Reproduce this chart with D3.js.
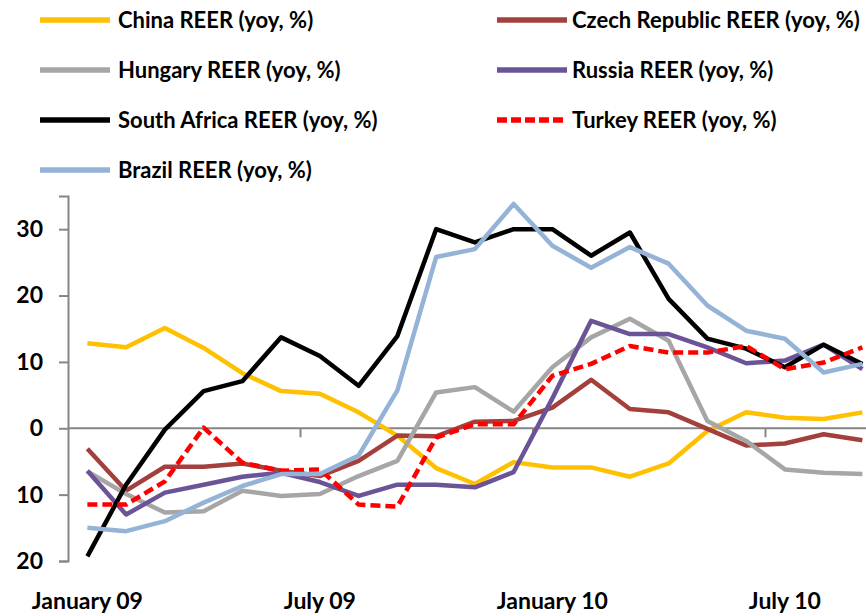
<!DOCTYPE html>
<html>
<head>
<meta charset="utf-8">
<script src="https://cdn.jsdelivr.net/npm/d3@7"></script>
<style>
  html, body { margin: 0; padding: 0; background: #ffffff; }
  svg { display: block; }
  text { font-family: Lato, "Noto Sans", sans-serif; font-weight: bold; fill: #000; }
</style>
</head>
<body>
<script>
// ---- data ----
const months = ["Jan 09","Feb 09","Mar 09","Apr 09","May 09","Jun 09","Jul 09","Aug 09","Sep 09","Oct 09","Nov 09","Dec 09",
                "Jan 10","Feb 10","Mar 10","Apr 10","May 10","Jun 10","Jul 10","Aug 10","Sep 10"];
const xLabelIdx = [0, 6, 12, 18];
const xLabels = ["January 09", "July 09", "January 10", "July 10"];
const yTicks = [-20, -10, 0, 10, 20, 30];
const yTickLabels = ["20", "10", "0", "10", "20", "30"];

const seriesNames = ["China REER (yoy, %)", "Czech Republic REER (yoy, %)", "Hungary REER (yoy, %)", "Russia REER (yoy, %)",
                     "South Africa REER (yoy, %)", "Turkey REER (yoy, %)", "Brazil REER (yoy, %)"];
const china   = [12.8, 12.2, 15.1, 12.1, 8.3, 5.6, 5.2, 2.4, -1.1, -6.0, -8.4, -5.1, -5.9, -5.9, -7.3, -5.3, -0.4, 2.4, 1.6, 1.4, 2.4];
const czech   = [-3.1, -9.4, -5.8, -5.8, -5.3, -6.4, -7.2, -4.9, -1.1, -1.2, 1.0, 1.1, 3.1, 7.3, 2.9, 2.4, -0.1, -2.6, -2.3, -0.9, -1.8];
const hungary = [-6.5, -9.9, -12.7, -12.5, -9.4, -10.2, -9.9, -7.2, -4.9, 5.4, 6.2, 2.5, 9.2, 13.7, 16.5, 13.2, 1.1, -1.9, -6.2, -6.7, -6.9];
const russia  = [-6.4, -13.0, -9.7, -8.5, -7.3, -6.7, -8.1, -10.2, -8.5, -8.5, -8.9, -6.6, 4.5, 16.2, 14.2, 14.2, 12.2, 9.8, 10.2, 12.6, 8.9];
const safrica = [-19.3, -8.5, -0.2, 5.6, 7.1, 13.7, 10.9, 6.4, 13.9, 30.0, 28.0, 30.0, 30.0, 26.0, 29.5, 19.5, 13.5, 12.0, 9.2, 12.6, 9.7];
const turkey  = [-11.5, -11.5, -8.0, 0.1, -5.2, -6.4, -6.2, -11.5, -11.8, -1.4, 0.6, 0.6, 7.9, 9.7, 12.4, 11.4, 11.4, 12.4, 8.9, 9.9, 12.2];
const brazil  = [-15.0, -15.5, -14.0, -11.2, -8.7, -6.9, -6.9, -4.1, 5.7, 25.8, 27.0, 33.8, 27.5, 24.2, 27.3, 24.8, 18.5, 14.7, 13.5, 8.4, 9.7];

const seriesValues = [china, czech, hungary, russia, safrica, turkey, brazil];
const seriesColors = ["#FFC000", "#A3403D", "#A6A6A6", "#6A5396", "#000000", "#FF0000", "#95B3D7"];
const seriesDash = [null, null, null, null, null, "10,5", null];

// ---- layout ----
const W = 866, H = 616;
const FS = 23, LEG_FS = 22;
const svg = d3.select("body").append("svg").attr("width", W).attr("height", H);
svg.append("rect").attr("width", W).attr("height", H).attr("fill", "#fff");

const plotLeft = 68, step = 38.75;
const x = d3.scaleBand().domain(months).range([plotLeft, plotLeft + step * months.length]).paddingInner(0).paddingOuter(0);
const y = d3.scaleLinear().domain([-20, 35]).range([561, 196]);
const cx = m => x(m) + x.bandwidth() / 2;

const axisColor = "#868686";

// y axis
const yAxis = d3.axisLeft(y).tickValues(yTicks).tickSize(9).tickFormat((d, i) => yTickLabels[i]);
const gy = svg.append("g").attr("transform", `translate(${plotLeft},0)`).call(yAxis);
gy.select(".domain").attr("stroke", axisColor).attr("stroke-width", 2);
gy.selectAll(".tick line").attr("stroke", axisColor).attr("stroke-width", 2);
gy.selectAll(".tick text").attr("x", -25).attr("font-size", FS)
  .style("font-family", 'Lato, "Noto Sans", sans-serif').style("font-weight", "bold").attr("fill", "#000");

// x axis along zero line
const xAxis = d3.axisBottom(x).tickValues([]).tickSizeOuter(0);
const gx = svg.append("g").attr("transform", `translate(0,${y(0)})`).call(xAxis);
gx.select(".domain").attr("stroke", axisColor).attr("stroke-width", 2).attr("d", `M${plotLeft},0H${W}`);
gx.selectAll("line.tk").data(xLabelIdx.slice(1)).enter().append("line")
  .attr("class", "tk")
  .attr("x1", i => x(months[i])).attr("x2", i => x(months[i]))
  .attr("y1", 0).attr("y2", 9).attr("stroke", axisColor).attr("stroke-width", 2);

// x labels at bottom
svg.append("g").attr("class", "xlab").selectAll("text").data(xLabelIdx).enter().append("text")
  .attr("x", i => cx(months[i])).attr("y", 609)
  .attr("text-anchor", "middle").attr("font-size", FS)
  .text((i, k) => xLabels[k]);

// lines
const line = d3.line().x((d, i) => cx(months[i])).y(d => y(d));
seriesValues.forEach((vals, s) => {
  svg.append("path").datum(vals)
    .attr("d", line)
    .attr("fill", "none")
    .attr("stroke", seriesColors[s])
    .attr("stroke-width", 4.5)
    .attr("stroke-linejoin", "round")
    .attr("stroke-dasharray", seriesDash[s]);
});

// legend
const legX = [40, 497], legTextX = [118, 572], legY = [20, 70, 120, 170];
seriesNames.forEach((name, s) => {
  const col = s % 2, row = Math.floor(s / 2);
  const g = svg.append("g");
  g.append("line")
    .attr("x1", legX[col]).attr("x2", legX[col] + 70)
    .attr("y1", legY[row]).attr("y2", legY[row])
    .attr("stroke", seriesColors[s]).attr("stroke-width", 5.5)
    .attr("stroke-dasharray", seriesDash[s] ? "10,4" : null);
  g.append("text").attr("class", "leg").attr("x", legTextX[col]).attr("y", legY[row]).attr("dy", "0.36em")
    .attr("font-size", LEG_FS).text(name);
});
</script>
</body>
</html>
